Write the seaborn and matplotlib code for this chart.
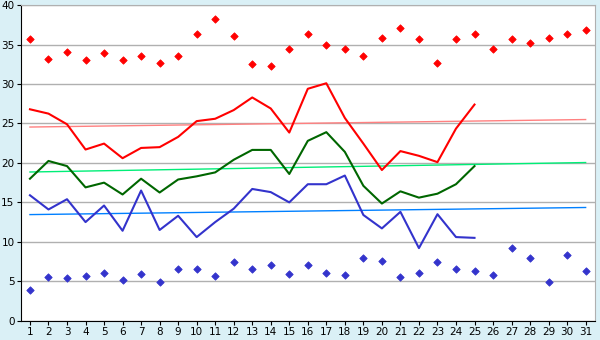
import numpy as np
import pandas as pd
import matplotlib
matplotlib.use('Agg')
import matplotlib.pyplot as plt
import seaborn as sns

# 일자 (1~31)
days = list(range(1, 32))

# 일 최고 / 최저 (마커)
max_temp = [35.7, 33.2, 34.0, 33.0, 33.9, 33.0, 33.6, 32.7, 33.6, 36.3,
            38.2, 36.1, 32.5, 32.3, 34.4, 36.3, 34.9, 34.4, 33.5, 35.9,
            37.1, 35.7, 32.7, 35.7, 36.4, 34.4, 35.7, 35.2, 35.9, 36.4, 36.8]
min_temp = [3.85, 5.6, 5.4, 5.7, 6.0, 5.1, 5.9, 4.85, 6.5, 6.5,
            5.7, 7.5, 6.6, 7.0, 5.9, 7.0, 6.0, 5.75, 8.0, 7.6,
            5.5, 6.1, 7.4, 6.6, 6.25, 5.75, 9.2, 8.0, 4.85, 8.3, 6.25]

# 평균 최고 / 평균 / 평균 최저 (1~25일)
line_days = list(range(1, 26))
avg_high = [26.8, 26.25, 24.9, 21.7, 22.45, 20.6, 21.9, 22.0, 23.3, 25.3,
            25.6, 26.7, 28.3, 26.9, 23.85, 29.4, 30.1, 25.7, 22.45, 19.1,
            21.5, 20.9, 20.1, 24.35, 27.4]
avg_mid = [18.0, 20.25, 19.6, 16.9, 17.5, 16.0, 18.0, 16.25, 17.9, 18.3,
           18.8, 20.4, 21.65, 21.65, 18.6, 22.8, 23.9, 21.4, 17.1, 14.85,
           16.4, 15.6, 16.1, 17.3, 19.6]
avg_low = [15.9, 14.1, 15.4, 12.5, 14.6, 11.4, 16.5, 11.5, 13.3, 10.6,
           12.5, 14.2, 16.7, 16.3, 15.0, 17.3, 17.3, 18.4, 13.4, 11.7,
           13.8, 9.2, 13.5, 10.6, 10.5]

# 평년값 (1일, 31일)
norm_days = [1, 31]
norm_high = [24.55, 25.5]
norm_mid = [18.85, 20.05]
norm_low = [13.45, 14.35]

bg = '#daf0f6'
fig = plt.figure(figsize=(6, 3.4), dpi=100, facecolor=bg)
ax = fig.add_axes([0.0345, 0.0568, 0.957, 0.928])
ax.set_facecolor('white')

# 평년 추세선
sns.lineplot(x=norm_days, y=norm_high, color='#ff8080', linewidth=1, ax=ax)
sns.lineplot(x=norm_days, y=norm_mid, color='#00ee77', linewidth=1, ax=ax)
sns.lineplot(x=norm_days, y=norm_low, color='#0080ff', linewidth=1, ax=ax)

# 일별 꺾은선
sns.lineplot(x=line_days, y=avg_high, color='#ff0000', linewidth=1.5, ax=ax)
sns.lineplot(x=line_days, y=avg_mid, color='#006600', linewidth=1.5, ax=ax)
sns.lineplot(x=line_days, y=avg_low, color='#3333cc', linewidth=1.5, ax=ax)

# 최고 / 최저 마커
sns.scatterplot(x=days, y=max_temp, color='#ff0000', marker='D', s=14, linewidth=0.6,
                edgecolor='#ff0000', ax=ax)
sns.scatterplot(x=days, y=min_temp, color='#3333cc', marker='D', s=14, linewidth=0.6,
                edgecolor='#3333cc', ax=ax)

ax.set_xlim(0.5, 31.5)
ax.set_ylim(0, 40)
ax.set_xticks(days)
ax.set_yticks(range(0, 41, 5))
ax.tick_params(labelsize=7.5, length=3, width=0.8, color='black', pad=1.5)
ax.grid(axis='y', color='#b0b0b0', linewidth=1)
ax.set_axisbelow(True)
for side in ['top', 'right']:
    ax.spines[side].set_color('#b0b0b0')
for side in ['left', 'bottom']:
    ax.spines[side].set_color('black')
ax.set_xlabel('')
ax.set_ylabel('')

plt.savefig('out.png', dpi=100, facecolor=bg)
